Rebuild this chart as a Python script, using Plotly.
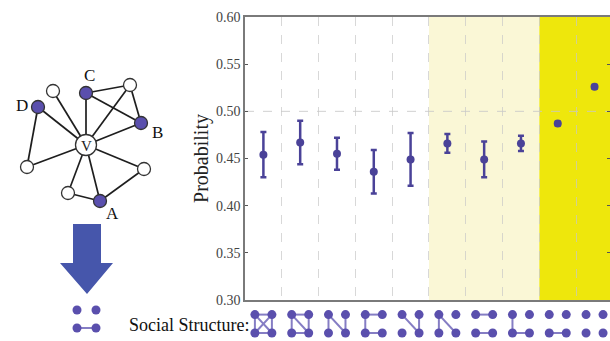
import plotly.graph_objects as go

# ---------------- data ----------------
categories = [1, 2, 3, 4, 5, 6, 7, 8, 9, 10]
probability = [0.454, 0.467, 0.455, 0.436, 0.449, 0.466, 0.449, 0.466, 0.487, 0.526]
error = [0.024, 0.023, 0.017, 0.023, 0.028, 0.010, 0.019, 0.008, 0.002, 0.002]
y_ticks = [0.30, 0.35, 0.40, 0.45, 0.50, 0.55, 0.60]
y_tick_labels = ["0.30", "0.35", "0.40", "0.45", "0.50", "0.55", "0.60"]
# edges among the 4 chosen neighbours (TL, TR, BL, BR) for each category
structures = [
    [("TL", "TR"), ("BL", "BR"), ("TL", "BL"), ("TR", "BR"), ("TL", "BR"), ("TR", "BL")],
    [("TL", "TR"), ("BL", "BR"), ("TL", "BL"), ("TR", "BR"), ("TL", "BR")],
    [("TL", "BL"), ("TR", "BR"), ("TL", "BR")],
    [("TL", "TR"), ("TL", "BL"), ("BL", "BR")],
    [("TL", "BR"), ("TR", "BR")],
    [("TL", "BL"), ("TL", "BR")],
    [("TL", "TR"), ("BL", "BR")],
    [("TL", "BL"), ("BL", "BR")],
    [("BL", "BR")],
    [],
]
light_band = (5.5, 8.5)
bright_band = (8.5, 11)

# network diagram (pixel layout of the illustration)
net_nodes = {
    "V": (86, 145, "center"), "C": (86, 93, "fill"), "D": (38, 107, "fill"),
    "B": (141, 123, "fill"), "A": (100, 201, "fill"), "w1": (53, 91, "empty"),
    "w2": (130, 85, "empty"), "w3": (27, 167, "empty"), "w4": (144, 169, "empty"),
    "w5": (68, 193, "empty"),
}
net_edges = [("V", "C"), ("V", "w1"), ("V", "D"), ("V", "w2"), ("V", "B"), ("V", "w3"),
             ("V", "w4"), ("V", "A"), ("V", "w5"), ("C", "w2"), ("C", "B"), ("w2", "B"),
             ("D", "w3"), ("w4", "A"), ("w5", "A")]
net_labels = {"C": (89, 75), "D": (22, 105), "B": (157, 132), "A": (112, 213)}

# ---------------- styling ----------------
W, H = 610, 341
PL, PR, PT, PB = 245, 610, 17, 300
PURPLE = "#4a4298"
NODE = "#5a4fad"
EDGE = "#857dc4"
SERIF = "Liberation Serif, Times New Roman, serif"

fig = go.Figure()

fig.add_trace(go.Scatter(
    x=categories, y=probability, mode="markers",
    marker=dict(size=8, color=PURPLE),
    error_y=dict(type="data", array=error, color=PURPLE, thickness=2.5, width=3),
    cliponaxis=False, xaxis="x", yaxis="y", showlegend=False, hoverinfo="skip",
))

# ---- network illustration on a pixel overlay axis ----
for a, b in net_edges:
    xa, ya, _ = net_nodes[a]
    xb, yb, _ = net_nodes[b]
    fig.add_trace(go.Scatter(x=[xa, xb], y=[ya, yb], mode="lines",
                             line=dict(color="#1e1e1e", width=1.7),
                             xaxis="x2", yaxis="y2", showlegend=False, hoverinfo="skip"))
for kind, col, size in [("empty", "white", 13), ("fill", NODE, 13), ("center", "white", 21)]:
    pts = [v for v in net_nodes.values() if v[2] == kind]
    fig.add_trace(go.Scatter(x=[p[0] for p in pts], y=[p[1] for p in pts], mode="markers",
                             marker=dict(size=size, color=col, line=dict(color="#333333", width=1.3)),
                             xaxis="x2", yaxis="y2", showlegend=False, hoverinfo="skip"))

# arrow
fig.add_trace(go.Scatter(
    x=[73, 101, 101, 113, 87, 60, 73, 73], y=[224, 224, 263, 263, 294, 263, 263, 224],
    mode="lines", fill="toself", fillcolor="#4656ab", line=dict(color="#4656ab", width=0),
    xaxis="x2", yaxis="y2", showlegend=False, hoverinfo="skip"))

# example structure below the arrow
fig.add_trace(go.Scatter(x=[77, 96], y=[328, 328], mode="lines", line=dict(color=EDGE, width=2),
                         xaxis="x2", yaxis="y2", showlegend=False, hoverinfo="skip"))
fig.add_trace(go.Scatter(x=[77, 96, 77, 96], y=[310, 310, 328, 328], mode="markers",
                         marker=dict(size=9, color=NODE),
                         xaxis="x2", yaxis="y2", showlegend=False, hoverinfo="skip"))

annotations = [
    dict(x=86, y=146, xref="x2", yref="y2", text="V", showarrow=False,
         font=dict(family=SERIF, size=15, color="#222")),
    dict(x=251, y=325, xref="x2", yref="y2", text="Social Structure:", showarrow=False,
         xanchor="right", yanchor="middle", font=dict(family=SERIF, size=18, color="#111")),
]
for lab, (lx, ly) in net_labels.items():
    annotations.append(dict(x=lx, y=ly, xref="x2", yref="y2", text=lab, showarrow=False,
                            font=dict(family=SERIF, size=17, color="#111")))

# ---- shapes: bands, reference line, structure icons ----
shapes = [
    dict(type="rect", xref="x", yref="y", x0=light_band[0], x1=light_band[1], y0=0.30, y1=0.60,
         fillcolor="#faf7d6", line=dict(width=0), layer="below"),
    dict(type="rect", xref="x", yref="y", x0=bright_band[0], x1=bright_band[1], y0=0.30, y1=0.60,
         fillcolor="#eee70c", line=dict(width=0), layer="below"),
    dict(type="line", xref="x", yref="y", x0=0.5, x1=11, y0=0.5, y1=0.5,
         line=dict(color="rgba(200,200,200,0.85)", width=1, dash="dash"), layer="below"),
]
DX, DY = 8.5, 9.2
ICON_Y = 1 - 323.8 / H
offs = {"TL": (-DX, DY), "TR": (DX, DY), "BL": (-DX, -DY), "BR": (DX, -DY)}
for cat, edges in zip(categories, structures):
    for a, b in edges:
        shapes.append(dict(type="line", xref="x", yref="paper", xsizemode="pixel", ysizemode="pixel",
                           xanchor=cat, yanchor=ICON_Y, x0=offs[a][0], y0=offs[a][1],
                           x1=offs[b][0], y1=offs[b][1], line=dict(color=EDGE, width=2)))
    for k, (ox, oy) in offs.items():
        shapes.append(dict(type="circle", xref="x", yref="paper", xsizemode="pixel", ysizemode="pixel",
                           xanchor=cat, yanchor=ICON_Y, x0=ox - 4.5, x1=ox + 4.5, y0=oy - 4.5, y1=oy + 4.5,
                           fillcolor=NODE, line=dict(width=0)))

fig.update_layout(
    width=W, height=H, autosize=False,
    margin=dict(l=0, r=0, t=0, b=0, pad=0, autoexpand=False),
    paper_bgcolor="white", plot_bgcolor="rgba(0,0,0,0)",
    showlegend=False,
    xaxis=dict(domain=[PL / W, PR / W], range=[0.5, 10.42], anchor="y", automargin=False,
               tickvals=[1.5, 2.5, 3.5, 4.5, 5.5, 6.5, 7.5, 8.5, 9.5], showticklabels=False, ticks="",
               showgrid=True, gridcolor="rgba(200,200,200,0.7)", griddash="dash", gridwidth=1,
               zeroline=False, showline=True, mirror=True, linecolor="#7a7a7a", linewidth=1.6),
    yaxis=dict(domain=[1 - PB / H, 1 - PT / H], range=[0.30, 0.60], anchor="x", automargin=False,
               tickvals=y_ticks, ticktext=y_tick_labels, ticks="inside", ticklen=3,
               tickcolor="#555555", showgrid=False, zeroline=False, showline=True, mirror="ticks",
               linecolor="#7a7a7a", linewidth=1.6,
               tickfont=dict(family=SERIF, size=14, color="#444444"),
               title=dict(text="Probability", font=dict(family=SERIF, size=20, color="#222222"),
                          standoff=2)),
    xaxis2=dict(domain=[0, 1], range=[0, W], anchor="y2", visible=False, automargin=False),
    yaxis2=dict(domain=[0, 1], range=[H, 0], anchor="x2", visible=False, automargin=False),
    shapes=shapes,
    annotations=annotations,
)

fig.write_html("out.html", config={"displayModeBar": False},
               post_script="document.body.style.margin='0px';")
